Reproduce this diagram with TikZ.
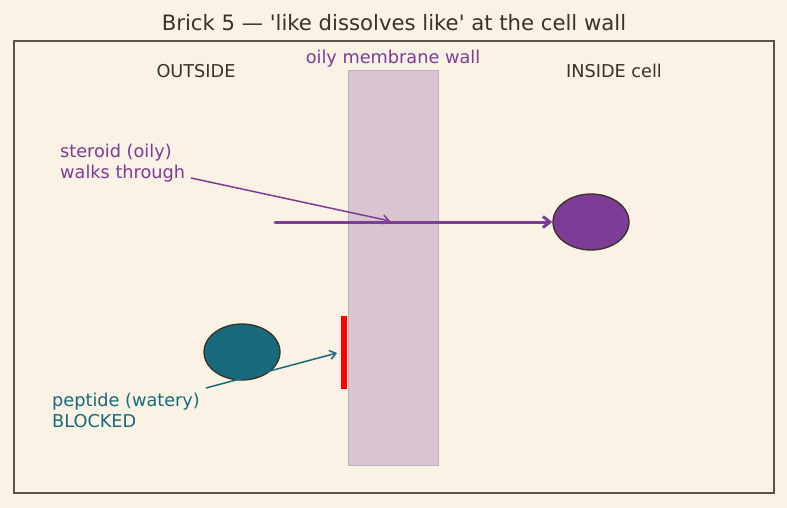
\documentclass[tikz,border=0pt]{standalone}
\usepackage{fontspec}
\setmainfont{DejaVu Sans}
\usetikzlibrary{arrows.meta,shapes.geometric}
\definecolor{bg}{HTML}{FAF2E4}
\definecolor{ink}{HTML}{3A3128}
\definecolor{frame}{HTML}{5C5244}
\definecolor{oily}{HTML}{7D3C98}
\definecolor{watery}{HTML}{176B7D}
\definecolor{memfill}{HTML}{D9C5D0}
\definecolor{memline}{HTML}{C2AAC4}
\tikzset{
  lbl/.style={font=\fontsize{17.7}{20}\selectfont, text=ink, inner sep=0pt},
  note/.style={font=\fontsize{17.7}{20.5}\selectfont, inner sep=0pt, align=left, anchor=north west},
  blob/.style={ellipse, minimum width=76pt, minimum height=56pt, draw=ink, line width=1.3pt, inner sep=0pt},
}
\begin{document}
\begin{tikzpicture}[x=1pt,y=-1pt]
\useasboundingbox[fill=bg] (0,0) rectangle (787,508);
\node[font=\fontsize{21.2}{24}\selectfont, text=ink, inner sep=0pt] (title) at (394,23) {Brick 5 — \textquotesingle like dissolves like\textquotesingle\ at the cell wall};
\draw[frame, line width=1.5pt] (14,41) rectangle (774,493);
\node[draw=memline, fill=memfill, line width=1pt, minimum width=90pt, minimum height=395pt, inner sep=0pt, anchor=north west] (wall) at (348,70) {};
\node[lbl, text=oily] (walllbl) at (393,59) {oily membrane wall};
\node[lbl] (out) at (196,71) {OUTSIDE};
\node[lbl] (in) at (614,71) {INSIDE cell};
\node[blob, fill=oily] (steroid) at (591,222) {};
\coordinate (sstart) at (275,222);
\draw[oily, line width=3pt, line cap=round, -{Straight Barb[length=7pt,width=11pt]}] (sstart) -- (steroid.west);
\node[note, text=oily] (snote) at (60,144) {steroid (oily)\\walks through};
\coordinate (stip) at (390,221);
\draw[oily, line width=1.5pt, -{Straight Barb[length=6pt,width=9pt]}] (191,178) -- (stip);
\node[blob, fill=watery] (peptide) at (242,352) {};
\node[fill=red, minimum width=6pt, minimum height=73pt, inner sep=0pt, anchor=north west] (block) at (341,316) {};
\node[note, text=watery] (pnote) at (52,393) {peptide (watery)\\BLOCKED};
\coordinate (ptip) at (337,353);
\draw[watery, line width=1.5pt, -{Straight Barb[length=6pt,width=9pt]}] (206,388) -- (ptip);
\end{tikzpicture}
\end{document}
